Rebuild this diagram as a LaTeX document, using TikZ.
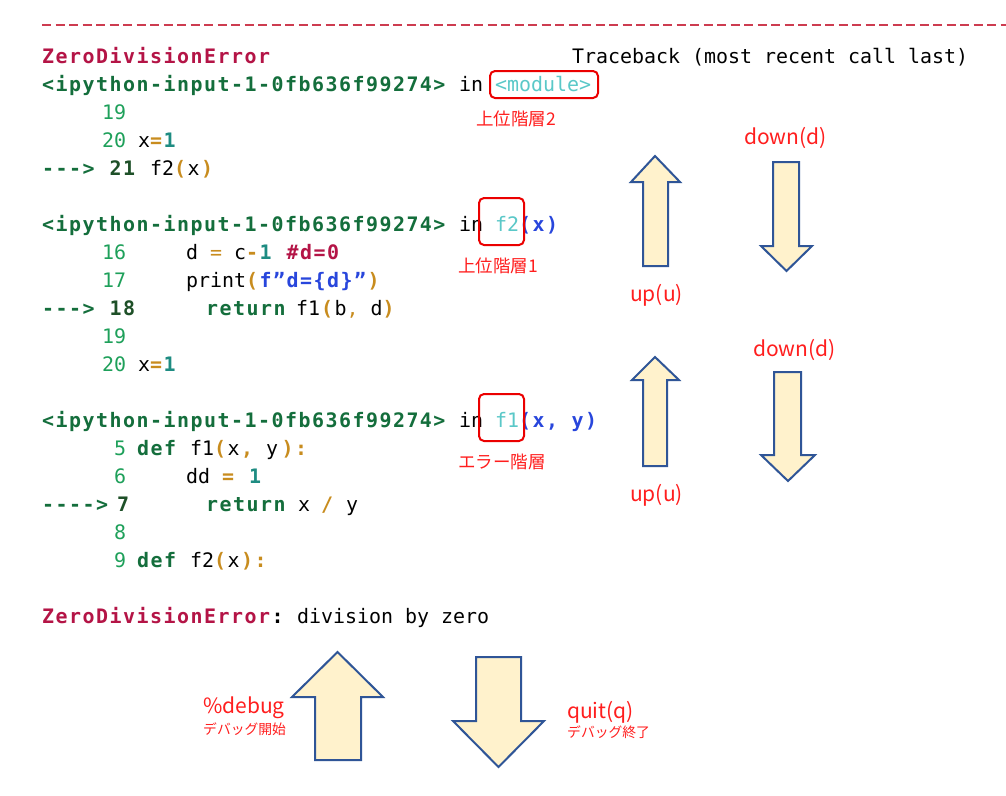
\documentclass[tikz,border=0pt]{standalone}
\usepackage{fontspec}
\newfontfamily\codefont{DejaVu Sans Mono}
\newfontfamily\jpfont{Noto Sans CJK JP}
\definecolor{crim}{RGB}{180,20,70}
\definecolor{dashred}{RGB}{205,60,80}
\definecolor{grn}{RGB}{20,110,60}
\definecolor{dgrn}{RGB}{30,80,40}
\definecolor{lnum}{RGB}{30,160,90}
\definecolor{cyn}{RGB}{90,200,200}
\definecolor{blu}{RGB}{40,70,220}
\definecolor{gold}{RGB}{200,140,30}
\definecolor{tealc}{RGB}{30,140,130}
\definecolor{lblred}{RGB}{255,30,30}
\definecolor{boxred}{RGB}{235,0,0}
\definecolor{afill}{RGB}{255,242,204}
\definecolor{ablue}{RGB}{47,85,151}
\newcounter{tn}
\newcommand\Rg[4]{\stepcounter{tn}\node[rg,text=#3] (t\arabic{tn}) at (#1,#2) {#4};}
\newcommand\Bd[4]{\stepcounter{tn}\node[bd,text=#3] (t\arabic{tn}) at (#1,#2) {#4};}
\tikzset{
  rg/.style={anchor=base west, inner sep=0pt, font=\codefont\fontsize{19.93}{24}\selectfont},
  bd/.style={anchor=base west, inner sep=0pt, font=\codefont\fontsize{19.93}{24}\selectfont\bfseries\addfontfeature{LetterSpace=7.5}},
  lbl/.style={inner sep=0pt, text=lblred, font=\jpfont\fontsize{21}{24}\selectfont},
  lblsmall/.style={inner sep=0pt, anchor=west, text=lblred, font=\jpfont\fontsize{13.8}{16}\selectfont},
  lblmid/.style={inner sep=0pt, anchor=west, text=lblred, font=\jpfont\fontsize{17.5}{20}\selectfont},
  hbox/.style={draw=boxred, line width=2pt, rounded corners=5pt},
  blockarrow/.style={draw=ablue, fill=afill, line width=2pt, line join=miter},
}
\begin{document}
\begin{tikzpicture}[x=1pt,y=-1pt]
\useasboundingbox (0,0) rectangle (1006,795);
\fill[white] (0,0) rectangle (1006,795);
% dashed header line
\coordinate (dl) at (42,25);
\coordinate (dr) at (1006,25);
\draw[dashred, line width=2.5pt, dash pattern=on 9pt off 4.5pt] (dl) -- (dr);
% block 1
\Bd{42}{63}{crim}{ZeroDivisionError}
\Rg{572}{63}{black}{Traceback (most recent call last)}
\Bd{42}{91}{grn}{<ipython-input-1-0fb636f99274>}
\Rg{459}{91}{black}{in}
\Rg{495}{91}{cyn}{<module>}
\Rg{102}{119}{lnum}{19}
\Rg{102}{147}{lnum}{20}
\Rg{138}{147}{black}{x}
\Bd{150}{147}{gold}{=}
\Bd{163.5}{147}{tealc}{1}
\Bd{42}{175}{grn}{--->}
\Bd{109.5}{175}{dgrn}{21}
\Rg{150}{175}{black}{f2}
\Bd{174}{175}{gold}{(}
\Rg{187.5}{175}{black}{x}
\Bd{201}{175}{gold}{)}
% block 2
\Bd{42}{231}{grn}{<ipython-input-1-0fb636f99274>}
\Rg{459}{231}{black}{in}
\Rg{495}{231}{cyn}{f2}
\Bd{519}{231}{blu}{(x)}
\Rg{102}{259}{lnum}{16}
\Rg{186}{259}{black}{d}
\Rg{210}{259}{gold}{=}
\Rg{234}{259}{black}{c}
\Bd{246}{259}{gold}{-}
\Bd{259.5}{259}{tealc}{1}
\Bd{286.5}{259}{crim}{\#d=0}
\Rg{102}{287}{lnum}{17}
\Rg{186}{287}{black}{print}
\Bd{246}{287}{gold}{(}
\Bd{259.5}{287}{blu}{f”d=\{d\}”}
\Bd{367.5}{287}{gold}{)}
\Bd{42}{315}{grn}{--->}
\Bd{109.5}{315}{dgrn}{18}
\Bd{206}{315}{grn}{return}
\Rg{296}{315}{black}{f1}
\Bd{321}{315}{gold}{(}
\Rg{334.5}{315}{black}{b}
\Rg{346.5}{315}{gold}{,}
\Rg{370.5}{315}{black}{d}
\Bd{382.5}{315}{gold}{)}
\Rg{102}{343}{lnum}{19}
\Rg{102}{371}{lnum}{20}
\Rg{138}{371}{black}{x}
\Bd{150}{371}{gold}{=}
\Bd{163.5}{371}{tealc}{1}
% block 3
\Bd{42}{427}{grn}{<ipython-input-1-0fb636f99274>}
\Rg{459}{427}{black}{in}
\Rg{495}{427}{cyn}{f1}
\Bd{519}{427}{blu}{(x, y)}
\Rg{114}{455}{lnum}{5}
\Bd{137}{455}{grn}{def}
\Rg{190}{455}{black}{f1}
\Bd{214}{455}{gold}{(}
\Rg{227.5}{455}{black}{x}
\Bd{241}{455}{gold}{,}
\Rg{266}{455}{black}{y}
\Bd{281.5}{455}{gold}{):}
\Rg{114}{483}{lnum}{6}
\Rg{186}{483}{black}{dd}
\Bd{222}{483}{gold}{=}
\Bd{249}{483}{tealc}{1}
\Bd{42}{511}{grn}{---->}
\Bd{117}{511}{dgrn}{7}
\Bd{206}{511}{grn}{return}
\Rg{298}{511}{black}{x}
\Bd{321}{511}{gold}{/}
\Rg{346}{511}{black}{y}
\Rg{114}{539}{lnum}{8}
\Rg{114}{567}{lnum}{9}
\Bd{137}{567}{grn}{def}
\Rg{190}{567}{black}{f2}
\Bd{214}{567}{gold}{(}
\Rg{227.5}{567}{black}{x}
\Bd{241}{567}{gold}{):}
% final error
\Bd{42}{623}{crim}{ZeroDivisionError}
\Bd{271.5}{623}{black}{:}
\Rg{297}{623}{black}{division by zero}
% highlight boxes
\draw[hbox] (490,71) rectangle (598,98);
\draw[hbox] (479,198) rectangle (524,245);
\draw[hbox] (479,394) rectangle (524,441);
\node[lblmid] (lv2) at (476,119) {上位階層2};
\node[lblmid] (lv1) at (458,266) {上位階層1};
\node[lblmid] (lv0) at (458,462) {エラー階層};
% right arrows, pair 1
\draw[blockarrow] (655,156) -- (680,182) -- (668,182) -- (668,266) -- (643,266) -- (643,182) -- (631,182) -- cycle;
\draw[blockarrow] (773,162) -- (799,162) -- (799,246) -- (812,246) -- (786.5,271) -- (761,246) -- (773,246) -- cycle;
\node[lbl] (d1) at (785.5,138) {down(d)};
\node[lbl] (u1) at (656.5,295) {up(u)};
% right arrows, pair 2
\draw[blockarrow] (655,357) -- (679,380) -- (667,380) -- (667,466) -- (643,466) -- (643,380) -- (632,380) -- cycle;
\draw[blockarrow] (774,372) -- (801,372) -- (801,455) -- (815,455) -- (788,481) -- (761,455) -- (774,455) -- cycle;
\node[lbl] (d2) at (794.5,350) {down(d)};
\node[lbl] (u2) at (656.5,495) {up(u)};
% bottom arrows
\draw[blockarrow] (337.5,652) -- (383,697) -- (361,697) -- (361,760) -- (315,760) -- (315,697) -- (292,697) -- cycle;
\draw[blockarrow] (476,657) -- (521,657) -- (521,721) -- (544,721) -- (498.5,767) -- (453,721) -- (476,721) -- cycle;
\node[lbl, anchor=west] (dbg) at (203,708) {\%debug};
\node[lblsmall] (dbgj) at (203,729) {デバッグ開始};
\node[lbl, anchor=west] (qt) at (567,712) {quit(q)};
\node[lblsmall] (qtj) at (567,732) {デバッグ終了};
\end{tikzpicture}
\end{document}
